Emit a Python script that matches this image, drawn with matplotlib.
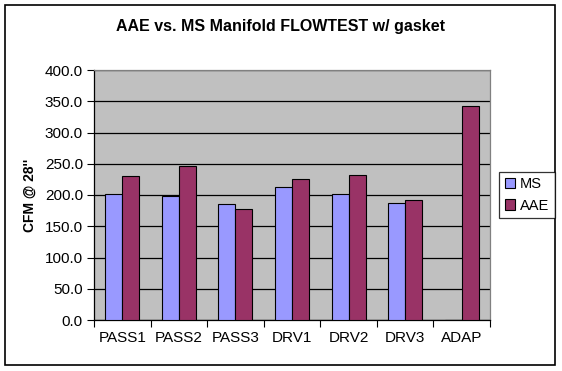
import matplotlib
matplotlib.use("Agg")
import matplotlib.pyplot as plt
import numpy as np
from matplotlib.patches import Rectangle

categories = ["PASS1", "PASS2", "PASS3", "DRV1", "DRV2", "DRV3", "ADAP"]
ms = [201, 198, 186, 213, 201, 187, 0]
aae = [230, 246, 177, 226, 232, 192, 342]
yticks = [0, 50, 100, 150, 200, 250, 300, 350, 400]

plt.rcParams['font.family'] = ['Liberation Sans', 'DejaVu Sans']

fig = plt.figure(figsize=(5.62, 3.71), dpi=100)
fig.patch.set_facecolor('white')
ax = fig.add_axes([94/562, 1-320/371, (490-94)/562, (320-70)/371])
ax.set_facecolor('#C0C0C0')

x = np.arange(len(categories))
w = 0.30
ax.bar(x - w/2, ms, w, color='#9999FF', edgecolor='black', linewidth=0.8, label='MS', zorder=3)
ax.bar(x + w/2, aae, w, color='#993366', edgecolor='black', linewidth=0.8, label='AAE', zorder=3)

ax.set_xlim(-0.5, len(categories) - 0.5)
ax.set_ylim(0, 400)
ax.set_yticks(yticks)
ax.set_yticklabels([f"{v:.1f}" for v in yticks], fontsize=11)
ax.yaxis.grid(True, color='black', linewidth=0.9, zorder=1)
ax.set_axisbelow(True)

ax.set_xticks(np.arange(len(categories) + 1) - 0.5)
ax.set_xticklabels([])
ax.set_xticks(x, minor=True)
ax.set_xticklabels(categories, minor=True, fontsize=11)
ax.tick_params(axis='x', which='minor', length=0, pad=8)
ax.tick_params(axis='x', which='major', length=5, direction='out', width=0.8)
ax.tick_params(axis='y', length=5, direction='out', width=0.8, pad=3)

for s in ['left', 'bottom']:
    ax.spines[s].set_color('black')
    ax.spines[s].set_linewidth(0.9)
for s in ['top', 'right']:
    ax.spines[s].set_color('#808080')
    ax.spines[s].set_linewidth(0.9)

ax.set_ylabel("CFM @ 28''", fontsize=10, fontweight='bold', labelpad=6)

fig.text(0.5, 1 - 27/371, "AAE vs. MS Manifold FLOWTEST w/ gasket", ha='center', va='center',
         fontsize=11.5, fontweight='bold')

leg = fig.legend(loc='center', bbox_to_anchor=(527/562, 1 - 195/371), fontsize=10.5,
                 frameon=True, fancybox=False, edgecolor='black', handlelength=0.7,
                 handleheight=0.7, handletextpad=0.3, borderpad=0.4, labelspacing=0.5,
                 borderaxespad=0)
leg.get_frame().set_linewidth(0.9)

fig.add_artist(Rectangle((5/562, 1-365/371), 550/562, 360/371, transform=fig.transFigure,
                         fill=False, edgecolor='black', linewidth=1.2))

fig.savefig("out.png", dpi=100)
